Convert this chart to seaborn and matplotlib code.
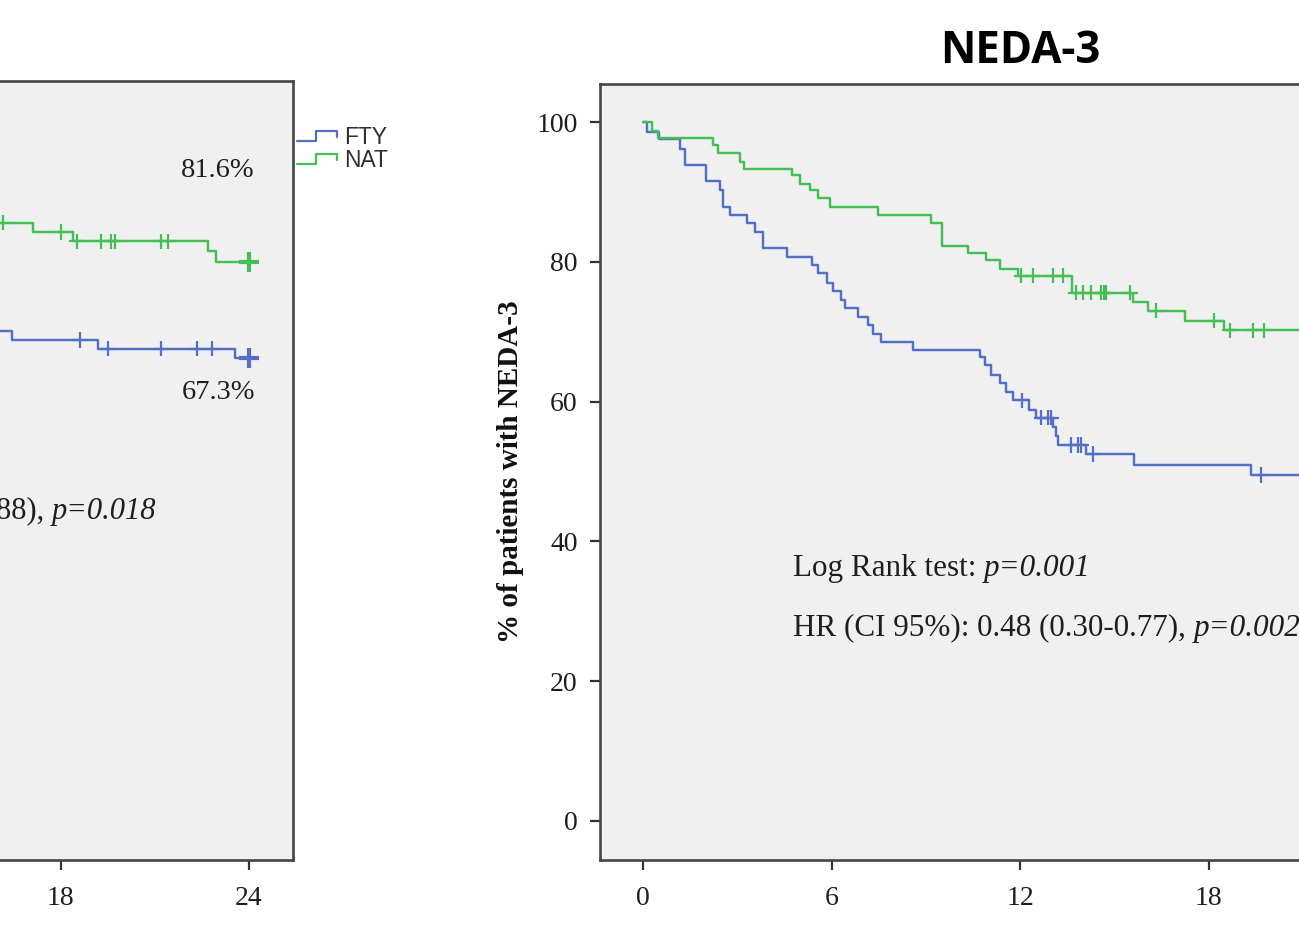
import numpy as np
import pandas as pd
import matplotlib
matplotlib.use("Agg")
import matplotlib.pyplot as plt
import seaborn as sns
from matplotlib.legend_handler import HandlerBase
from matplotlib.lines import Line2D

# ---------------- data ----------------
groups = ["FTY", "NAT"]
colors = {"FTY": "#5370c6", "NAT": "#45bf55"}

# left panel (only the visible right-hand part of the curves)
left_fty_time = [15.5, 16.46, 19.19, 23.55, 24.0]
left_fty_pct = [71.3, 70.0, 68.7, 67.3, 67.3]
left_fty_cens_time = [18.61, 19.51, 21.21, 22.33, 22.81]
left_fty_cens_pct = [70.0, 68.7, 68.7, 68.7, 68.7]

left_nat_time = [15.5, 17.12, 18.39, 22.7, 22.95, 24.0]
left_nat_pct = [87.5, 86.1, 84.7, 83.2, 81.6, 81.6]
left_nat_cens_time = [16.16, 18.02, 18.52, 19.3, 19.62, 19.72, 21.21, 21.42]
left_nat_cens_pct = [87.5, 86.1, 84.7, 84.7, 84.7, 84.7, 84.7, 84.7]

left_final_time = [24.0, 24.0]
left_final_pct = [67.3, 81.6]
left_final_group = ["FTY", "NAT"]

# right panel: NEDA-3
neda_fty_time = [0, 0.12, 0.5, 1.18, 1.32, 2.0, 2.45, 2.55, 2.77, 3.3, 3.56, 3.83,
                 4.57, 5.37, 5.58, 5.84, 6.05, 6.3, 6.42, 6.85, 7.16, 7.32, 7.59,
                 8.59, 10.72, 10.87, 11.09, 11.35, 11.56, 11.78, 12.3, 12.52,
                 13.04, 13.15, 13.22, 14.1, 15.64, 19.35, 24.0]
neda_fty_pct = [100, 98.6, 97.6, 96.2, 93.8, 91.5, 90.3, 87.9, 86.7, 85.5, 84.3, 82.0,
                80.7, 79.5, 78.4, 76.9, 75.8, 74.6, 73.4, 72.1, 71.0, 69.7, 68.5,
                67.4, 66.4, 65.2, 63.8, 62.6, 61.4, 60.2, 58.8, 57.7,
                56.4, 55.1, 53.8, 52.5, 50.9, 49.5, 49.5]
neda_fty_cens_time = [12.07, 12.68, 12.89, 13.0, 13.63, 13.84, 13.95, 14.32, 19.67]
neda_fty_cens_pct = [60.2, 57.7, 57.7, 57.7, 53.8, 53.8, 53.8, 52.5, 49.5]

neda_nat_time = [0, 0.28, 0.48, 2.24, 2.39, 3.08, 3.21, 4.73, 4.99, 5.31, 5.58, 5.95,
                 7.47, 9.18, 9.52, 10.34, 10.93, 11.35, 11.93, 13.66, 15.6, 16.07,
                 17.24, 18.5, 24.0]
neda_nat_pct = [100, 98.7, 97.7, 96.7, 95.5, 94.3, 93.3, 92.4, 91.2, 90.3, 89.1, 87.9,
                86.7, 85.6, 82.3, 81.2, 80.2, 79.0, 78.0, 75.6, 74.3, 73.0,
                71.6, 70.2, 70.2]
neda_nat_cens_time = [12.04, 12.4, 13.04, 13.36, 13.78, 14.0, 14.27, 14.59, 14.66, 14.74,
                      15.5, 16.33, 18.19, 18.67, 19.42, 19.75]
neda_nat_cens_pct = [78.0, 78.0, 78.0, 78.0, 75.6, 75.6, 75.6, 75.6, 75.6, 75.6,
                     75.6, 73.0, 71.6, 70.2, 70.2, 70.2]

right_x_ticks = [0, 6, 12, 18]   # ticks visible inside the picture
left_x_ticks = [18, 24]
y_ticks = [0, 20, 40, 60, 80, 100]

title_text = "NEDA-3"
ylabel_text = "% of patients with NEDA-3"
left_pct_labels = ["81.6%", "67.3%"]
left_hr_normal = "88), "
left_hr_italic = "p=0.018"
right_lr_normal = "Log Rank test: "
right_lr_italic = "p=0.001"
right_hr_normal = "HR (CI 95%): 0.48 (0.30-0.77), "
right_hr_italic = "p=0.002"


def frame(time, pct, grp):
    return pd.DataFrame({"time": time, "pct": pct, "group": grp})


left_curves = pd.concat([frame(left_fty_time, left_fty_pct, "FTY"),
                         frame(left_nat_time, left_nat_pct, "NAT")])
left_cens = pd.concat([frame(left_fty_cens_time, left_fty_cens_pct, "FTY"),
                       frame(left_nat_cens_time, left_nat_cens_pct, "NAT")])
left_final = frame(left_final_time, left_final_pct, left_final_group)

neda_curves = pd.concat([frame(neda_fty_time, neda_fty_pct, "FTY"),
                         frame(neda_nat_time, neda_nat_pct, "NAT")])
neda_cens = pd.concat([frame(neda_fty_cens_time, neda_fty_cens_pct, "FTY"),
                       frame(neda_nat_cens_time, neda_nat_cens_pct, "NAT")])
neda_final = frame([24.0, 24.0], [49.5, 70.2], ["FTY", "NAT"])

# ---------------- style ----------------
sns.set_style("white")
plt.rcParams["font.family"] = ["Liberation Serif", "DejaVu Serif"]

W, H = 1299, 925
fig = plt.figure(figsize=(W / 100, H / 100), dpi=100)
fig.patch.set_facecolor("white")

XLIM = (-1.37, 25.4)


def px_axes(left, top, right, bottom):
    return fig.add_axes([left / W, 1 - bottom / H, (right - left) / W, (bottom - top) / H])


ax_l = px_axes(-548, 81, 293, 860)
ax_r = px_axes(600, 84, 1441, 860)

FRAME = "#454545"
for ax, ylim, xt, yt in ((ax_l, (-7.5, 108.6), left_x_ticks, []),
                         (ax_r, (-5.58, 105.44), right_x_ticks, y_ticks)):
    ax.set_facecolor("#f0f0f0")
    ax.set_xlim(*XLIM)
    ax.set_ylim(*ylim)
    for s in ax.spines.values():
        s.set_color(FRAME)
        s.set_linewidth(1.9)
        s.set_visible(True)
    ax.set_xticks(xt)
    ax.set_yticks(yt)
    ax.tick_params(axis="both", which="major", direction="out", length=7, width=1.6,
                   color="#333333", labelsize=20, labelcolor="#1e1e1e",
                   bottom=True, left=True, top=False, right=False)
    ax.tick_params(axis="x", pad=12)
    ax.tick_params(axis="y", pad=9)
    ax.grid(False)


def draw_panel(ax, curves, cens, final):
    sns.lineplot(data=curves, x="time", y="pct", hue="group", palette=colors,
                 hue_order=groups, estimator=None, sort=False, drawstyle="steps-post",
                 linewidth=1.75, legend=False, ax=ax)
    sns.scatterplot(data=cens, x="time", y="pct", hue="group", palette=colors,
                    hue_order=groups, marker="+", s=120, linewidth=1.6, legend=False,
                    ax=ax, zorder=3)
    sns.scatterplot(data=final, x="time", y="pct", hue="group", palette=colors,
                    hue_order=groups, marker="+", s=200, linewidth=3.0, legend=False,
                    ax=ax, zorder=3)
    ax.set_xlabel("")
    ax.set_ylabel("")


draw_panel(ax_l, left_curves, left_cens, left_final)
draw_panel(ax_r, neda_curves, neda_cens, neda_final)

# ---------------- annotations ----------------
TXT = "#1e1e1e"
ax_l.text(24.19, 95.3, left_pct_labels[0], ha="right", va="center", fontsize=20.5, color=TXT)
ax_l.text(24.19, 62.2, left_pct_labels[1], ha="right", va="center", fontsize=20.5, color=TXT)
t_it = ax_l.text(21.06, 44.5, left_hr_italic, ha="right", va="center", fontsize=22,
                 style="italic", color=TXT)
ax_l.annotate(left_hr_normal, xy=(0, 0), xycoords=t_it, ha="right", va="bottom",
              fontsize=22, color=TXT)


def two_part(ax, x, y, normal, italic, size):
    t1 = ax.text(x, y, normal, ha="left", va="center", fontsize=size, color=TXT)
    ax.annotate(italic, xy=(1, 0), xycoords=t1, ha="left", va="bottom",
                fontsize=size, style="italic", color=TXT)


two_part(ax_r, 4.77, 36.1, right_lr_normal, right_lr_italic, 22.4)
two_part(ax_r, 4.77, 27.6, right_hr_normal, right_hr_italic, 22.4)

ax_r.set_ylabel(ylabel_text, fontsize=21, fontweight="bold", labelpad=9, color="#111111")
ax_r.set_title(title_text, fontsize=31.5, fontweight="bold", pad=15,
               family=["Open Sans", "DejaVu Sans"], color="black")


# ---------------- legend with step-shaped glyphs ----------------
class StepHandler(HandlerBase):
    def create_artists(self, legend, orig_handle, xdescent, ydescent, width, height,
                       fontsize, trans):
        xs = np.array([0.0, 0.48, 0.48, 1.0, 1.0]) * width - xdescent
        ys = np.array([0.2, 0.2, 0.8, 0.8, 0.45]) * height - ydescent
        ln = Line2D(xs, ys, color=orig_handle.get_color(), lw=1.6)
        ln.set_transform(trans)
        return [ln]


handles = [Line2D([], [], color=colors[g]) for g in groups]
fig.legend(handles, groups, loc="upper left", bbox_to_anchor=(297 / W, 1 - 126 / H),
           frameon=False, handlelength=1.75, handletextpad=0.3,
           labelspacing=0.0, borderpad=0, borderaxespad=0,
           handler_map={Line2D: StepHandler()},
           prop={"family": ["Liberation Sans", "DejaVu Sans"], "size": 16.5})
for txt in fig.legends[0].get_texts():
    txt.set_color("#303030")

fig.savefig("out.png", dpi=100)
